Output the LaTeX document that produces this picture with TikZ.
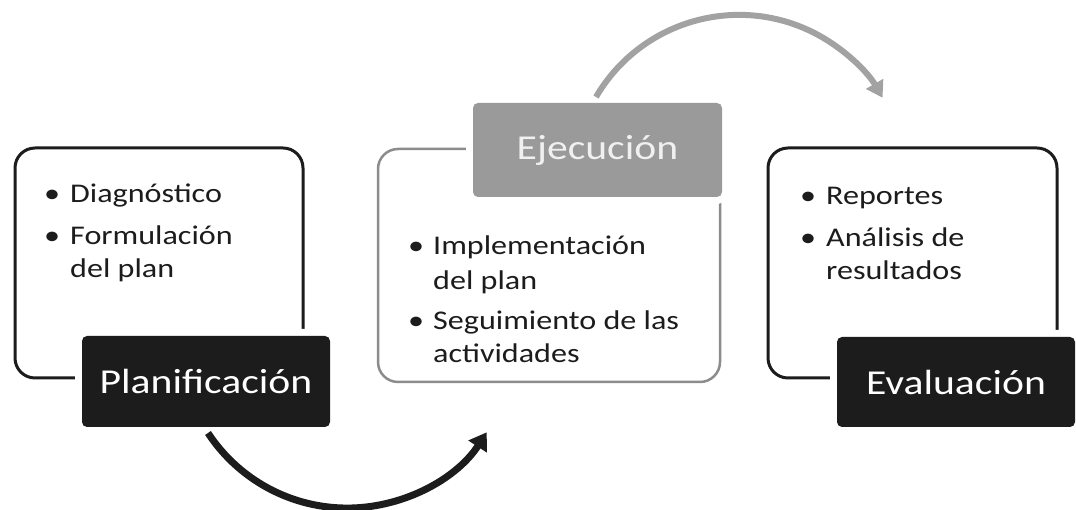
\documentclass[tikz,border=0pt]{standalone}
\usepackage{fontspec}
\setmainfont{Carlito}[FakeStretch=1.19]
\usetikzlibrary{arrows.meta}
\definecolor{ink}{HTML}{1C1C1C}
\definecolor{midgray}{HTML}{8C8C8C}
\definecolor{boxgray}{HTML}{9A9A9A}
\definecolor{arrowgray}{HTML}{A2A2A2}
\begin{document}
\begin{tikzpicture}[x=1pt,y=1pt,
  frame/.style={draw=ink, line width=3pt, rounded corners=20pt, inner sep=0pt},
  gframe/.style={draw=midgray, line width=2.5pt, rounded corners=20pt, inner sep=0pt},
  titlebox/.style={rounded corners=5pt, inner sep=0pt, preaction={draw=white, line width=14pt},
     font=\fontsize{35}{40}\selectfont},
  darkbox/.style={titlebox, fill=ink, text=white},
  graybox/.style={titlebox, fill=boxgray, text=white!94!black},
  item/.style={anchor=base west, inner sep=0pt, text=ink, font=\fontsize{27}{32}\selectfont},
  dot/.style={item}
]
\useasboundingbox (0,0) rectangle (1076,510);
\fill[white] (0,0) rectangle (1076,510);

% frames
\node[frame, minimum width=288pt, minimum height=230pt] (f1) at (159,247) {};
\node[gframe, minimum width=342pt, minimum height=233pt] (f2) at (549,244.5) {};
\node[frame, minimum width=289pt, minimum height=230pt] (f3) at (912.5,247) {};

% title boxes
\node[darkbox, minimum width=248pt, minimum height=91pt] (plan) at (206,128.5) {Planificación};
\node[graybox, minimum width=249pt, minimum height=94pt] (ejec) at (597.5,360) {Ejecución};
\node[darkbox, minimum width=238pt, minimum height=90pt] (eval) at (956,128) {Evaluación};

% left list
\node[dot] (b11) at (44,307) {•};
\node[item] (t11) at (70,307) {Diagnóstico};
\node[dot] (b12) at (44,265) {•};
\node[item] (t12) at (70,265) {Formulación};
\node[item] (t13) at (70,232) {del plan};

% middle list
\node[dot] (b21) at (408,255) {•};
\node[item] (t21) at (433,255) {Implementación};
\node[item] (t22) at (433,220) {del plan};
\node[dot] (b23) at (408,180) {•};
\node[item] (t23) at (433,180) {Seguimiento de las};
\node[item] (t24) at (433,147) {actividades};

% right list
\node[dot] (b31) at (800,305) {•};
\node[item] (t31) at (826,305) {Reportes};
\node[dot] (b32) at (800,263) {•};
\node[item] (t32) at (826,263) {Análisis de};
\node[item] (t33) at (826,230) {resultados};

% arrows
\coordinate (a1s) at (208,77);
\draw[ink, line width=7pt, -{Triangle[length=17pt,width=21pt]}]
  (a1s) arc[start angle=213.3, end angle=327, radius=166.5];
\coordinate (a2s) at (596,413);
\draw[arrowgray, line width=6pt, -{Triangle[length=16pt,width=19pt]}]
  (a2s) arc[start angle=149.7, end angle=30, radius=165.7];
\end{tikzpicture}
\end{document}
